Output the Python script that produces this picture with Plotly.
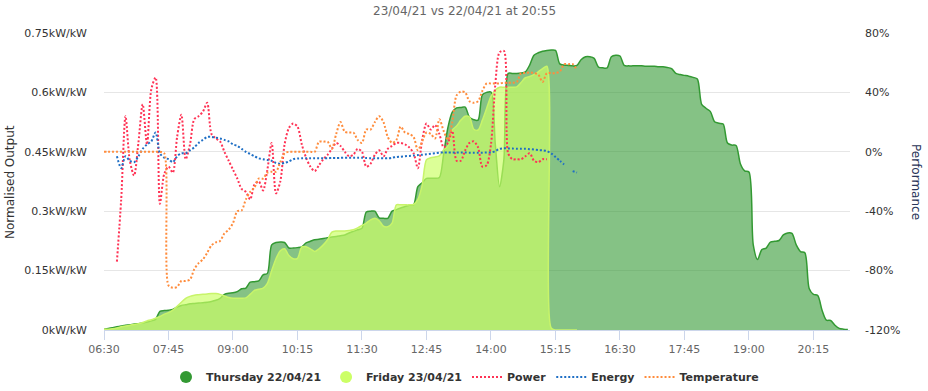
import pandas as pd
import plotly.graph_objects as go

# ---------------- data ----------------
day = "2021-04-22"
step = "5min"

# Normalised output (kW/kW), 5-minute samples from 06:30
thursday = [
    0.002, 0.004, 0.006, 0.008, 0.010, 0.012, 0.013, 0.015, 0.016, 0.018,
    0.020, 0.023, 0.027, 0.047, 0.049, 0.050, 0.052, 0.058, 0.062, 0.064,
    0.066, 0.067, 0.068, 0.069, 0.070, 0.072, 0.075, 0.080, 0.090, 0.093,
    0.094, 0.097, 0.104, 0.106, 0.121, 0.122, 0.124, 0.139, 0.143, 0.215,
    0.221, 0.222, 0.221, 0.207, 0.207, 0.208, 0.210, 0.220, 0.224, 0.228,
    0.229, 0.231, 0.233, 0.235, 0.236, 0.238, 0.240, 0.245, 0.249, 0.253,
    0.257, 0.298, 0.300, 0.300, 0.283, 0.282, 0.282, 0.300, 0.304, 0.308,
    0.312, 0.315, 0.316, 0.362, 0.372, 0.383, 0.383, 0.383, 0.385, 0.445,
    0.512, 0.550, 0.561, 0.562, 0.563, 0.537, 0.531, 0.530, 0.594, 0.600,
    0.601, 0.470, 0.362, 0.430, 0.648, 0.648, 0.648, 0.649, 0.652, 0.669,
    0.694, 0.700, 0.704, 0.706, 0.707, 0.706, 0.672, 0.669, 0.668, 0.667,
    0.668, 0.683, 0.690, 0.690, 0.686, 0.664, 0.662, 0.662, 0.690, 0.694,
    0.692, 0.668, 0.667, 0.667, 0.667, 0.667, 0.666, 0.666, 0.666, 0.665,
    0.665, 0.663, 0.660, 0.648, 0.645, 0.643, 0.641, 0.638, 0.634, 0.570,
    0.560, 0.552, 0.526, 0.522, 0.520, 0.472, 0.467, 0.466, 0.420, 0.402,
    0.399, 0.215, 0.178, 0.203, 0.207, 0.222, 0.224, 0.226, 0.240, 0.245,
    0.244, 0.215, 0.198, 0.195, 0.105, 0.090, 0.087, 0.050, 0.025, 0.024,
    0.012, 0.004, 0.002, 0.001,
]
friday = [
    0.002, 0.002, 0.003, 0.005, 0.008, 0.010, 0.012, 0.014, 0.016, 0.019,
    0.023, 0.026, 0.030, 0.034, 0.040, 0.044, 0.050, 0.060, 0.070, 0.080,
    0.085, 0.088, 0.089, 0.090, 0.091, 0.092, 0.092, 0.090, 0.086, 0.082,
    0.080, 0.080, 0.080, 0.081, 0.090, 0.100, 0.103, 0.106, 0.118, 0.150,
    0.180, 0.200, 0.205, 0.188, 0.180, 0.181, 0.210, 0.210, 0.205, 0.198,
    0.205, 0.215, 0.228, 0.247, 0.250, 0.250, 0.250, 0.251, 0.253, 0.258,
    0.264, 0.270, 0.278, 0.282, 0.276, 0.262, 0.261, 0.270, 0.316, 0.316,
    0.316, 0.316, 0.317, 0.330, 0.366, 0.430, 0.435, 0.437, 0.440, 0.455,
    0.465, 0.505, 0.515, 0.530, 0.540, 0.538, 0.507, 0.505, 0.530, 0.560,
    0.590, 0.606, 0.613, 0.613, 0.613, 0.613, 0.614, 0.625, 0.637, 0.640,
    0.645, 0.652, 0.660, 0.666, 0.005, 0.0, 0.0, 0.0, 0.0, 0.0,
    0.0,
]

# Performance (%), 5-minute samples
power_start = "06:45"
power = [
    -74, -32, 24, -6, -16, 6, 32, 5, 42, 50,
    -35, -15, -10, -14, 10, 25, -5, 5, 22, 24,
    27, 33, 12, 9, 7, 0, -6, -12, -18, -25,
    -27, -32, -22, -20, -26, -12, 6, -28, -20, 5,
    16, 19, 17, 5, -4, -10, -13, -9, -5, -2,
    2, 6, 4, 0, -3, -2, 2, 0, -10, -8,
    -2, 1, -3, 2, 4, 6, 6, 5, 3, -1,
    -11, 8, 19, 15, 18, 12, 3, 6, 14, -6,
    -6, 1, 6, 7, 3, -10, -9, 5, 45, 67,
    68, -1, -5, -5, -5, -3, -1, -6, -7, -5,
    -5,
]
energy_start = "06:45"
energy = [
    -3, -11, -3, -6, -7, -3, 2, 5, 7, 13,
    -1, -4, -5, -7, -3, -1, -1, 1, 3, 6,
    8, 10, 10, 9.5, 9, 8, 7, 5, 4, 2,
    0, -1.5, -3, -4.4, -5, -5.5, -6, -7.5, -8, -7.5,
    -6.5, -5, -4.5, -4.4, -4.4, -4.4, -4.4, -4.4, -4.4, -4.3,
    -4.2, -4.2, -4.1, -4, -4, -4, -4, -4, -4.2, -4.3,
    -4.4, -4.4, -4.4, -4.4, -4, -3.5, -3.3, -3, -2.8, -2.5,
    -2.2, -2, -1.6, -1.3, -1, -0.6, -0.5, -0.5, -0.5, -0.5,
    -0.5, -0.5, -0.6, -0.6, -0.6, -0.6, -0.5, -0.5, 0.5, 2,
    2.4, 2.3, 2.2, 2, 2, 2, 1.8, 1.5, 1.2, 1,
    0.5, -1, -3.5, -6, -8.5, None, -13, -14,
]
temperature_start = "06:30"
temperature = [
    0, 0, 0, 0, 0, 0, 0, 0, 0, 0,
    0, 0, 0, 0, -1, -90, -91.5, -91, -87, -87,
    -86, -79, -75, -72.5, -68, -63, -61, -60, -55, -52.5,
    -48, -40, -39.5, -32, -27, -24, -18, -18, -14, -13.4,
    -13.4, -7, -1, 0, 0, 0, 0, 0, 0, 0,
    6.8, 6.8, 6.8, 2, 12, 20, 13.5, 13, 13, 8,
    6, 15, 15, 20, 24, 20, 10, 6, 8, 17,
    13, 12, 10, 1, 7, 13, 12, 9, 22, 14,
    8, 20, 38, 40.5, 40, 34, 33, 34, 41, 46,
    46, 46, 46, 46.5, 46.5, 46.5, 47, 53, 53, 53.5,
    53, 52, 47, 53, 53, 53, 54, 59, 59, 59,
    55,
]

tick_labels = ["06:30", "07:45", "09:00", "10:15", "11:30", "12:45",
               "14:00", "15:15", "16:30", "17:45", "19:00", "20:15"]
left_ticks = [0, 0.15, 0.3, 0.45, 0.6, 0.75]
left_labels = ["0kW/kW", "0.15kW/kW", "0.3kW/kW", "0.45kW/kW", "0.6kW/kW", "0.75kW/kW"]
right_ticks = [-120, -80, -40, 0, 40, 80]

title_text = "23/04/21 vs 22/04/21 at 20:55"
names = ["Thursday 22/04/21", "Friday 23/04/21", "Power", "Energy", "Temperature"]

# ---------------- styles ----------------
FONT = "DejaVu Sans"
C_THU = "#339933"
C_FRI = "#ccff66"
C_POW = "#ff3355"
C_ENE = "#1f6fc5"
C_TMP = "#ff8c3c"
W, H = 928, 391
L, R, T, B = 104, 78, 33, 61


def times(start, n):
    return pd.date_range(f"{day} {start}", periods=n, freq=step)


fig = go.Figure()

fig.add_trace(go.Scatter(
    x=times("06:30", len(thursday)), y=thursday, mode="lines",
    line=dict(color=C_THU, width=1.5, shape="spline", smoothing=0.8),
    fill="tozeroy", fillcolor="rgba(51,153,51,0.6)",
    showlegend=False, hoverinfo="skip"))
fig.add_trace(go.Scatter(
    x=times("06:30", len(friday)), y=friday, mode="lines",
    line=dict(color="#c8f46a", width=1.5, shape="spline", smoothing=0.8),
    fill="tozeroy", fillcolor="rgba(204,255,102,0.68)",
    showlegend=False, hoverinfo="skip"))

# legend markers for the two areas
for nm, col in [(names[0], C_THU), (names[1], C_FRI)]:
    fig.add_trace(go.Scatter(x=[None], y=[None], mode="markers", name=nm,
                             marker=dict(color=col, size=12, symbol="circle")))

for nm, start, vals, col in [(names[2], power_start, power, C_POW),
                             (names[3], energy_start, energy, C_ENE),
                             (names[4], temperature_start, temperature, C_TMP)]:
    fig.add_trace(go.Scatter(
        x=times(start, len(vals)), y=vals, mode="lines", name=nm, yaxis="y2",
        line=dict(color=col, width=2, dash="2px,2px", shape="spline", smoothing=0.8),
        connectgaps=False, hoverinfo="skip"))

fig.update_layout(
    width=W, height=H,
    margin=dict(l=L, r=R, t=T, b=B, autoexpand=False),
    paper_bgcolor="white", plot_bgcolor="white",
    font=dict(family=FONT, size=11, color="#333333"),
    xaxis=dict(
        type="date",
        range=[f"{day} 06:30", f"{day} 20:57:30"],
        tickvals=[f"{day} {t}" for t in tick_labels],
        ticktext=tick_labels,
        tickfont=dict(size=11, color="#666666"),
        showgrid=False, zeroline=False, automargin=False,
        showline=True, linecolor="#ccd6eb", linewidth=1,
        ticks="outside", ticklen=9, tickcolor="#ccd6eb", tickwidth=1,
    ),
    yaxis=dict(
        range=[0, 0.75], tickvals=left_ticks, ticktext=left_labels,
        tickfont=dict(size=11, color="#333333"), automargin=False,
        showgrid=True, gridcolor="#e6e6e6", gridwidth=1,
        zeroline=False, showline=False, ticks="", ticklabelstandoff=16,
    ),
    yaxis2=dict(
        range=[-120, 80], tickvals=right_ticks,
        ticktext=[f"{v}%" for v in right_ticks],
        overlaying="y", side="right", automargin=False,
        tickfont=dict(size=11, color="#333333"),
        showgrid=False, zeroline=False, showline=False, ticks="",
        ticklabelstandoff=14,
    ),
    legend=dict(
        orientation="h", xref="container", x=465 / W, xanchor="center",
        yref="container", y=1 - 377 / H, yanchor="middle",
        font=dict(family=FONT, size=11, color="#333333", weight="bold"),
        bgcolor="rgba(0,0,0,0)", itemclick=False, itemdoubleclick=False,
    ),
    showlegend=True,
    annotations=[
        dict(text=title_text, xref="paper", yref="paper",
             x=(464 - L) / (W - L - R), y=1 + (T - 11) / (H - T - B),
             xanchor="center", yanchor="middle", showarrow=False,
             font=dict(family=FONT, size=12, color="#666666")),
        dict(text="Normalised Output", xref="paper", yref="paper",
             x=(10 - L) / (W - L - R), y=(H - B - 182) / (H - T - B),
             xanchor="center", yanchor="middle", textangle=-90, showarrow=False,
             font=dict(family=FONT, size=12, color="#333333")),
        dict(text="Performance", xref="paper", yref="paper",
             x=(916 - L) / (W - L - R), y=(H - B - 182) / (H - T - B),
             xanchor="center", yanchor="middle", textangle=90, showarrow=False,
             font=dict(family=FONT, size=12, color="#2a3558")),
    ],
)

fig.write_html("out.html", config={"displayModeBar": False},
               post_script="document.body.style.margin='0px';document.body.style.overflow='hidden';")
